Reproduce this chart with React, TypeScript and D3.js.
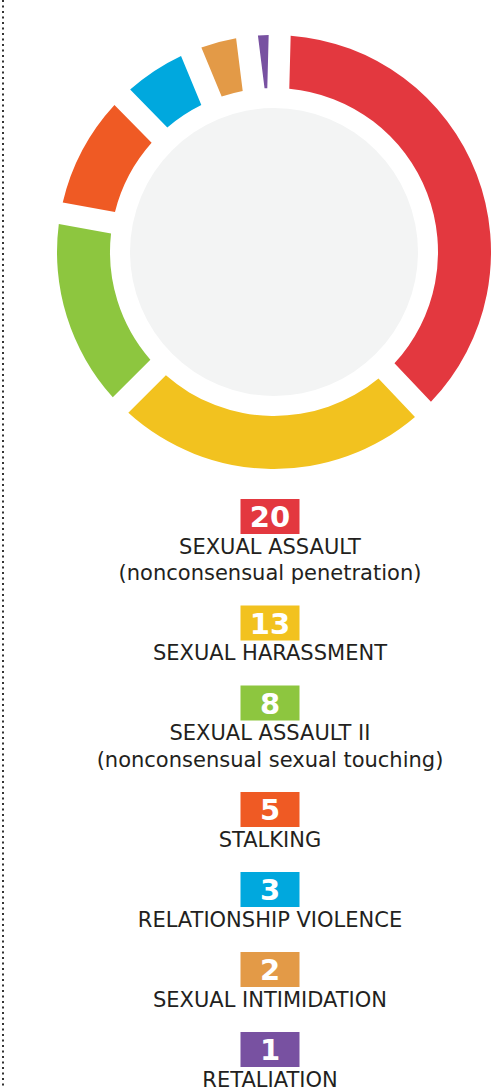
import React from "react";
import * as d3 from "d3";

const categories = [
  "SEXUAL ASSAULT",
  "SEXUAL HARASSMENT",
  "SEXUAL ASSAULT II",
  "STALKING",
  "RELATIONSHIP VIOLENCE",
  "SEXUAL INTIMIDATION",
  "RETALIATION",
];
const subtitles = [
  "(nonconsensual penetration)",
  "",
  "(nonconsensual sexual touching)",
  "",
  "",
  "",
  "",
];
const values = [20, 13, 8, 5, 3, 2, 1];
const colors = ["#e3383f", "#f2c21f", "#8dc63f", "#ef5a24", "#00a8de", "#e39a47", "#7851a1"];

const W = 500;
const H = 1088;
const CX = 274;
const CY = 252;
const R_OUT = 217;
const R_IN = 164;
const R_CORE = 144;
const PAD_DEG = 2;
const GAP_PX = 22;
const START_DEG = 1.5;

export default function App() {
  const padA = (PAD_DEG * Math.PI) / 180;
  const start = (START_DEG * Math.PI) / 180;
  const pie = d3
    .pie<number>()
    .value((d) => d)
    .sort(null)
    .startAngle(start)
    .endAngle(start + 2 * Math.PI)
    .padAngle(padA);
  const arcs = pie(values);
  const arc = d3
    .arc<d3.PieArcDatum<number>>()
    .innerRadius(R_IN)
    .outerRadius(R_OUT)
    .padRadius(GAP_PX / padA);

  // legend layout
  let y = 499;
  const items = values.map((v, i) => {
    const lines = subtitles[i] ? [categories[i], subtitles[i]] : [categories[i]];
    const top = y;
    y += 80 + 26.5 * (lines.length - 1);
    return { v, lines, top, color: colors[i] };
  });
  const LX = 270;
  const BW = 59;
  const BH = 35;

  return (
    <svg
      width={W}
      height={H}
      style={{ position: "absolute", left: 0, top: 0, display: "block" }}
    >
      <rect x={0} y={0} width={W} height={H} fill="#ffffff" />
      <line
        x1={3}
        x2={3}
        y1={0}
        y2={H}
        stroke="#333"
        strokeWidth={2}
        strokeDasharray="2 3.5"
      />
      <circle cx={CX} cy={CY} r={R_CORE} fill="#f3f4f4" />
      <g transform={`translate(${CX},${CY})`}>
        {arcs.map((a, i) => (
          <path key={i} d={arc(a) || ""} fill={colors[i]} />
        ))}
      </g>
      {items.map((it, i) => (
        <g key={i}>
          <rect x={LX - BW / 2} y={it.top} width={BW} height={BH} fill={it.color} />
          <text
            x={LX}
            y={it.top + BH / 2 + 10.5}
            textAnchor="middle"
            fill="#ffffff"
            fontFamily="DejaVu Sans"
            fontWeight="bold"
            fontSize={29}
          >
            {it.v}
          </text>
          {it.lines.map((ln, j) => (
            <text
              key={j}
              x={LX}
              y={it.top + 54.5 + j * 26.5}
              textAnchor="middle"
              fill="#231f20"
              fontFamily="DejaVu Sans"
              fontSize={21}
            >
              {ln}
            </text>
          ))}
        </g>
      ))}
    </svg>
  );
}
